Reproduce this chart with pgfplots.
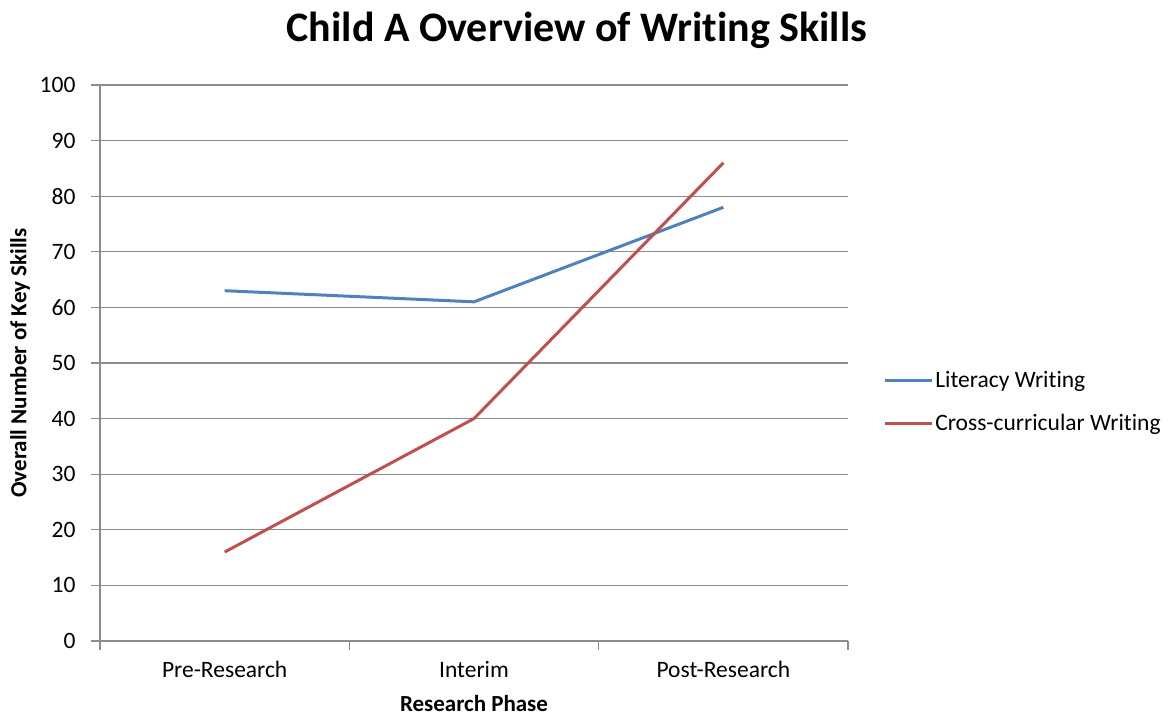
\documentclass[border=0pt]{standalone}
\usepackage{fontspec}
\setmainfont{Carlito}[Ligatures=NoCommon]
\usepackage{pgfplots}
\pgfplotsset{compat=1.18}
\definecolor{litblue}{HTML}{4F81BD}
\definecolor{crossred}{HTML}{C0504D}
\definecolor{gridgray}{HTML}{8C8C8C}
\begin{document}
\begin{tikzpicture}[x=1bp,y=1bp]
\useasboundingbox (0,0) rectangle (1171,716);
\node[font=\fontsize{42bp}{48bp}\selectfont\bfseries] at (577,686) {Child A Overview of Writing Skills};
\begin{axis}[
  at={(100bp,75bp)}, anchor=south west,
  width=748bp, height=556bp, scale only axis,
  xmin=-0.5, xmax=2.5, ymin=0, ymax=100,
  xtick={0,1,2},
  xticklabels={Pre-Research,Interim,Post-Research},
  minor xtick={-0.5,0.5,1.5,2.5},
  ytick={0,10,...,100},
  major x tick style={draw=none},
  tick align=outside,
  major tick length=9bp, minor tick length=9bp,
  tick style={gridgray, line width=1.2bp},
  ymajorgrids,
  grid style={gridgray, line width=1.2bp},
  axis x line*=bottom, axis y line*=left,
  axis line style={gridgray, line width=1.2bp, -},
  /pgf/number format/assume math mode=true,
  tick label style={font=\fontsize{23.5bp}{28bp}\selectfont, black},
  xticklabel style={yshift=-8bp},
  yticklabel style={xshift=-12bp},
  xlabel={Research Phase},
  ylabel={Overall Number of Key Skills},
  label style={font=\fontsize{23bp}{26bp}\selectfont\bfseries},
  xlabel style={at={(axis description cs:0.5,0)}, anchor=center, yshift=-63bp},
  ylabel style={at={(axis description cs:0,0.5)}, anchor=center, yshift=80bp},
  legend style={at={(1.047,0.43)}, anchor=west, draw=none, fill=none,
    font=\fontsize{23.5bp}{28bp}\selectfont, row sep=21bp, inner sep=0pt,
    legend cell align=left},
  legend image code/.code={\draw[#1] (0bp,0bp) -- (47bp,0bp);},
]
\addplot[litblue, line width=3bp] coordinates {(0,63) (1,61) (2,78)};
\addlegendentry{Literacy Writing}
\addplot[crossred, line width=3bp] coordinates {(0,16) (1,40) (2,86)};
\addlegendentry{Cross-curricular Writing}
\end{axis}
\end{tikzpicture}
\end{document}
